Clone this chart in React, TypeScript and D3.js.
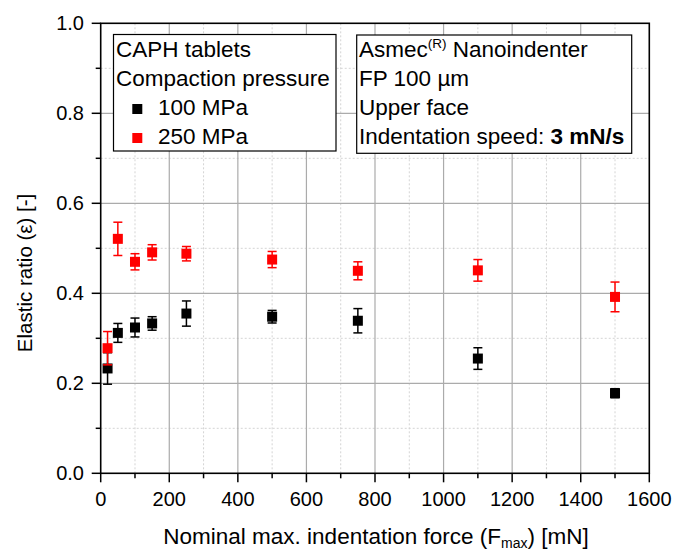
import React from "react";
import * as d3 from "d3";

const forces = [20, 50, 100, 150, 250, 500, 750, 1100, 1500];
const mpa100Values = [0.233, 0.312, 0.324, 0.333, 0.355, 0.348, 0.339, 0.255, 0.178];
const mpa100Errors = [0.035, 0.021, 0.021, 0.015, 0.028, 0.014, 0.027, 0.024, 0.01];
const mpa250Values = [0.278, 0.521, 0.47, 0.491, 0.488, 0.475, 0.45, 0.451, 0.392];
const mpa250Errors = [0.037, 0.037, 0.018, 0.017, 0.016, 0.018, 0.02, 0.024, 0.033];
const xTicks = [0, 200, 400, 600, 800, 1000, 1200, 1400, 1600];
const yTicks = [0, 0.2, 0.4, 0.6, 0.8, 1.0];
const xMinor = [100, 300, 500, 700, 900, 1100, 1300, 1500];
const yMinor = [0.1, 0.3, 0.5, 0.7, 0.9];

const FONT = "'Liberation Sans', Arial, sans-serif";

export default function App() {
  const W = 675, H = 552;
  const x = d3.scaleLinear().domain([0, 1600]).range([100.7, 649.3]);
  const y = d3.scaleLinear().domain([0, 1]).range([473.3, 23.3]);
  const [x0, x1] = x.range();
  const [y0, y1] = y.range();

  const series = [
    { name: "100 MPa", color: "#000000", vals: mpa100Values, errs: mpa100Errors },
    { name: "250 MPa", color: "#ff0000", vals: mpa250Values, errs: mpa250Errors },
  ];

  const ms = 10;
  const cap = 4.5;
  const LF = 22.5;

  return (
    <svg width={W} height={H} style={{ position: "absolute", left: 0, top: 0, background: "#fff" }} fontFamily={FONT}>
      <rect x={0} y={0} width={W} height={H} fill="#fff" />
      {/* minor grid */}
      {xMinor.map((t) => (
        <line key={"xm" + t} x1={x(t)} x2={x(t)} y1={y0} y2={y1} stroke="#d4d4d4" strokeWidth={1} strokeDasharray="2,2" />
      ))}
      {yMinor.map((t) => (
        <line key={"ym" + t} x1={x0} x2={x1} y1={y(t)} y2={y(t)} stroke="#d4d4d4" strokeWidth={1} strokeDasharray="2,2" />
      ))}
      {/* major grid */}
      {xTicks.slice(1, -1).map((t) => (
        <line key={"xg" + t} x1={x(t)} x2={x(t)} y1={y0} y2={y1} stroke="#ababab" strokeWidth={1.2} />
      ))}
      {yTicks.slice(1, -1).map((t) => (
        <line key={"yg" + t} x1={x0} x2={x1} y1={y(t)} y2={y(t)} stroke="#ababab" strokeWidth={1.2} />
      ))}
      {/* frame */}
      <rect x={x0} y={y1} width={x1 - x0} height={y0 - y1} fill="none" stroke="#000" strokeWidth={1.6} />
      {/* ticks */}
      {xTicks.map((t) => (
        <line key={"xt" + t} x1={x(t)} x2={x(t)} y1={y0} y2={y0 + 9} stroke="#000" strokeWidth={1.5} />
      ))}
      {xMinor.map((t) => (
        <line key={"xtm" + t} x1={x(t)} x2={x(t)} y1={y0} y2={y0 + 5} stroke="#000" strokeWidth={1.5} />
      ))}
      {yTicks.map((t) => (
        <line key={"yt" + t} x1={x0 - 9} x2={x0} y1={y(t)} y2={y(t)} stroke="#000" strokeWidth={1.5} />
      ))}
      {yMinor.map((t) => (
        <line key={"ytm" + t} x1={x0 - 5} x2={x0} y1={y(t)} y2={y(t)} stroke="#000" strokeWidth={1.5} />
      ))}
      {/* tick labels */}
      {xTicks.map((t) => (
        <text key={"xl" + t} x={x(t)} y={506} fontSize={20} textAnchor="middle" fill="#000">
          {t}
        </text>
      ))}
      {yTicks.map((t) => (
        <text key={"yl" + t} x={84} y={y(t) + 7} fontSize={20} textAnchor="end" fill="#000">
          {d3.format(".1f")(t)}
        </text>
      ))}
      {/* axis titles */}
      <text x={376} y={544} fontSize={22.5} textAnchor="middle" fill="#000">
        Nominal max. indentation force (F
        <tspan fontSize={14} dy={4}>max</tspan>
        <tspan dy={-4}>) [mN]</tspan>
      </text>
      <text transform="translate(32,273) rotate(-90)" fontSize={20.5} textAnchor="middle" fill="#000">
        Elastic ratio (ε) [-]
      </text>
      {/* data */}
      {series.map((s) => (
        <g key={s.name}>
          {forces.map((f, i) => {
            const cx = x(f);
            const top = y(s.vals[i] + s.errs[i]);
            const bot = y(s.vals[i] - s.errs[i]);
            return (
              <g key={i} stroke={s.color} strokeWidth={1.5}>
                <line x1={cx} x2={cx} y1={top} y2={bot} />
                <line x1={cx - cap} x2={cx + cap} y1={top} y2={top} />
                <line x1={cx - cap} x2={cx + cap} y1={bot} y2={bot} />
              </g>
            );
          })}
          {forces.map((f, i) => (
            <rect key={"m" + i} x={x(f) - ms / 2} y={y(s.vals[i]) - ms / 2} width={ms} height={ms} fill={s.color} />
          ))}
        </g>
      ))}
      {/* legend box 1 */}
      <rect x={113.5} y={34.5} width={222.5} height={116.5} fill="#fff" stroke="#000" strokeWidth={1.2} />
      <text x={116} y={57} fontSize={LF} fill="#000">CAPH tablets</text>
      <text x={116} y={86} fontSize={LF} fill="#000">Compaction pressure</text>
      {series.map((s, i) => (
        <g key={"lg" + i}>
          <rect x={137.3 - ms / 2} y={109 + i * 29 - ms / 2} width={ms} height={ms} fill={s.color} />
          <text x={158} y={115 + i * 28.7} fontSize={LF} fill="#000">{s.name}</text>
        </g>
      ))}
      {/* legend box 2 */}
      <rect x={356.7} y={35} width={275} height={118.3} fill="#fff" stroke="#000" strokeWidth={1.2} />
      <text x={359} y={57} fontSize={LF} fill="#000">
        Asmec<tspan fontSize={13.5} dy={-9}>(R)</tspan>
        <tspan dy={9}> Nanoindenter</tspan>
      </text>
      <text x={359} y={86} fontSize={LF} fill="#000">FP 100 µm</text>
      <text x={359} y={115} fontSize={LF} fill="#000">Upper face</text>
      <text x={359} y={143.5} fontSize={LF} fill="#000">
        Indentation speed: <tspan fontWeight="bold">3 mN/s</tspan>
      </text>
    </svg>
  );
}
